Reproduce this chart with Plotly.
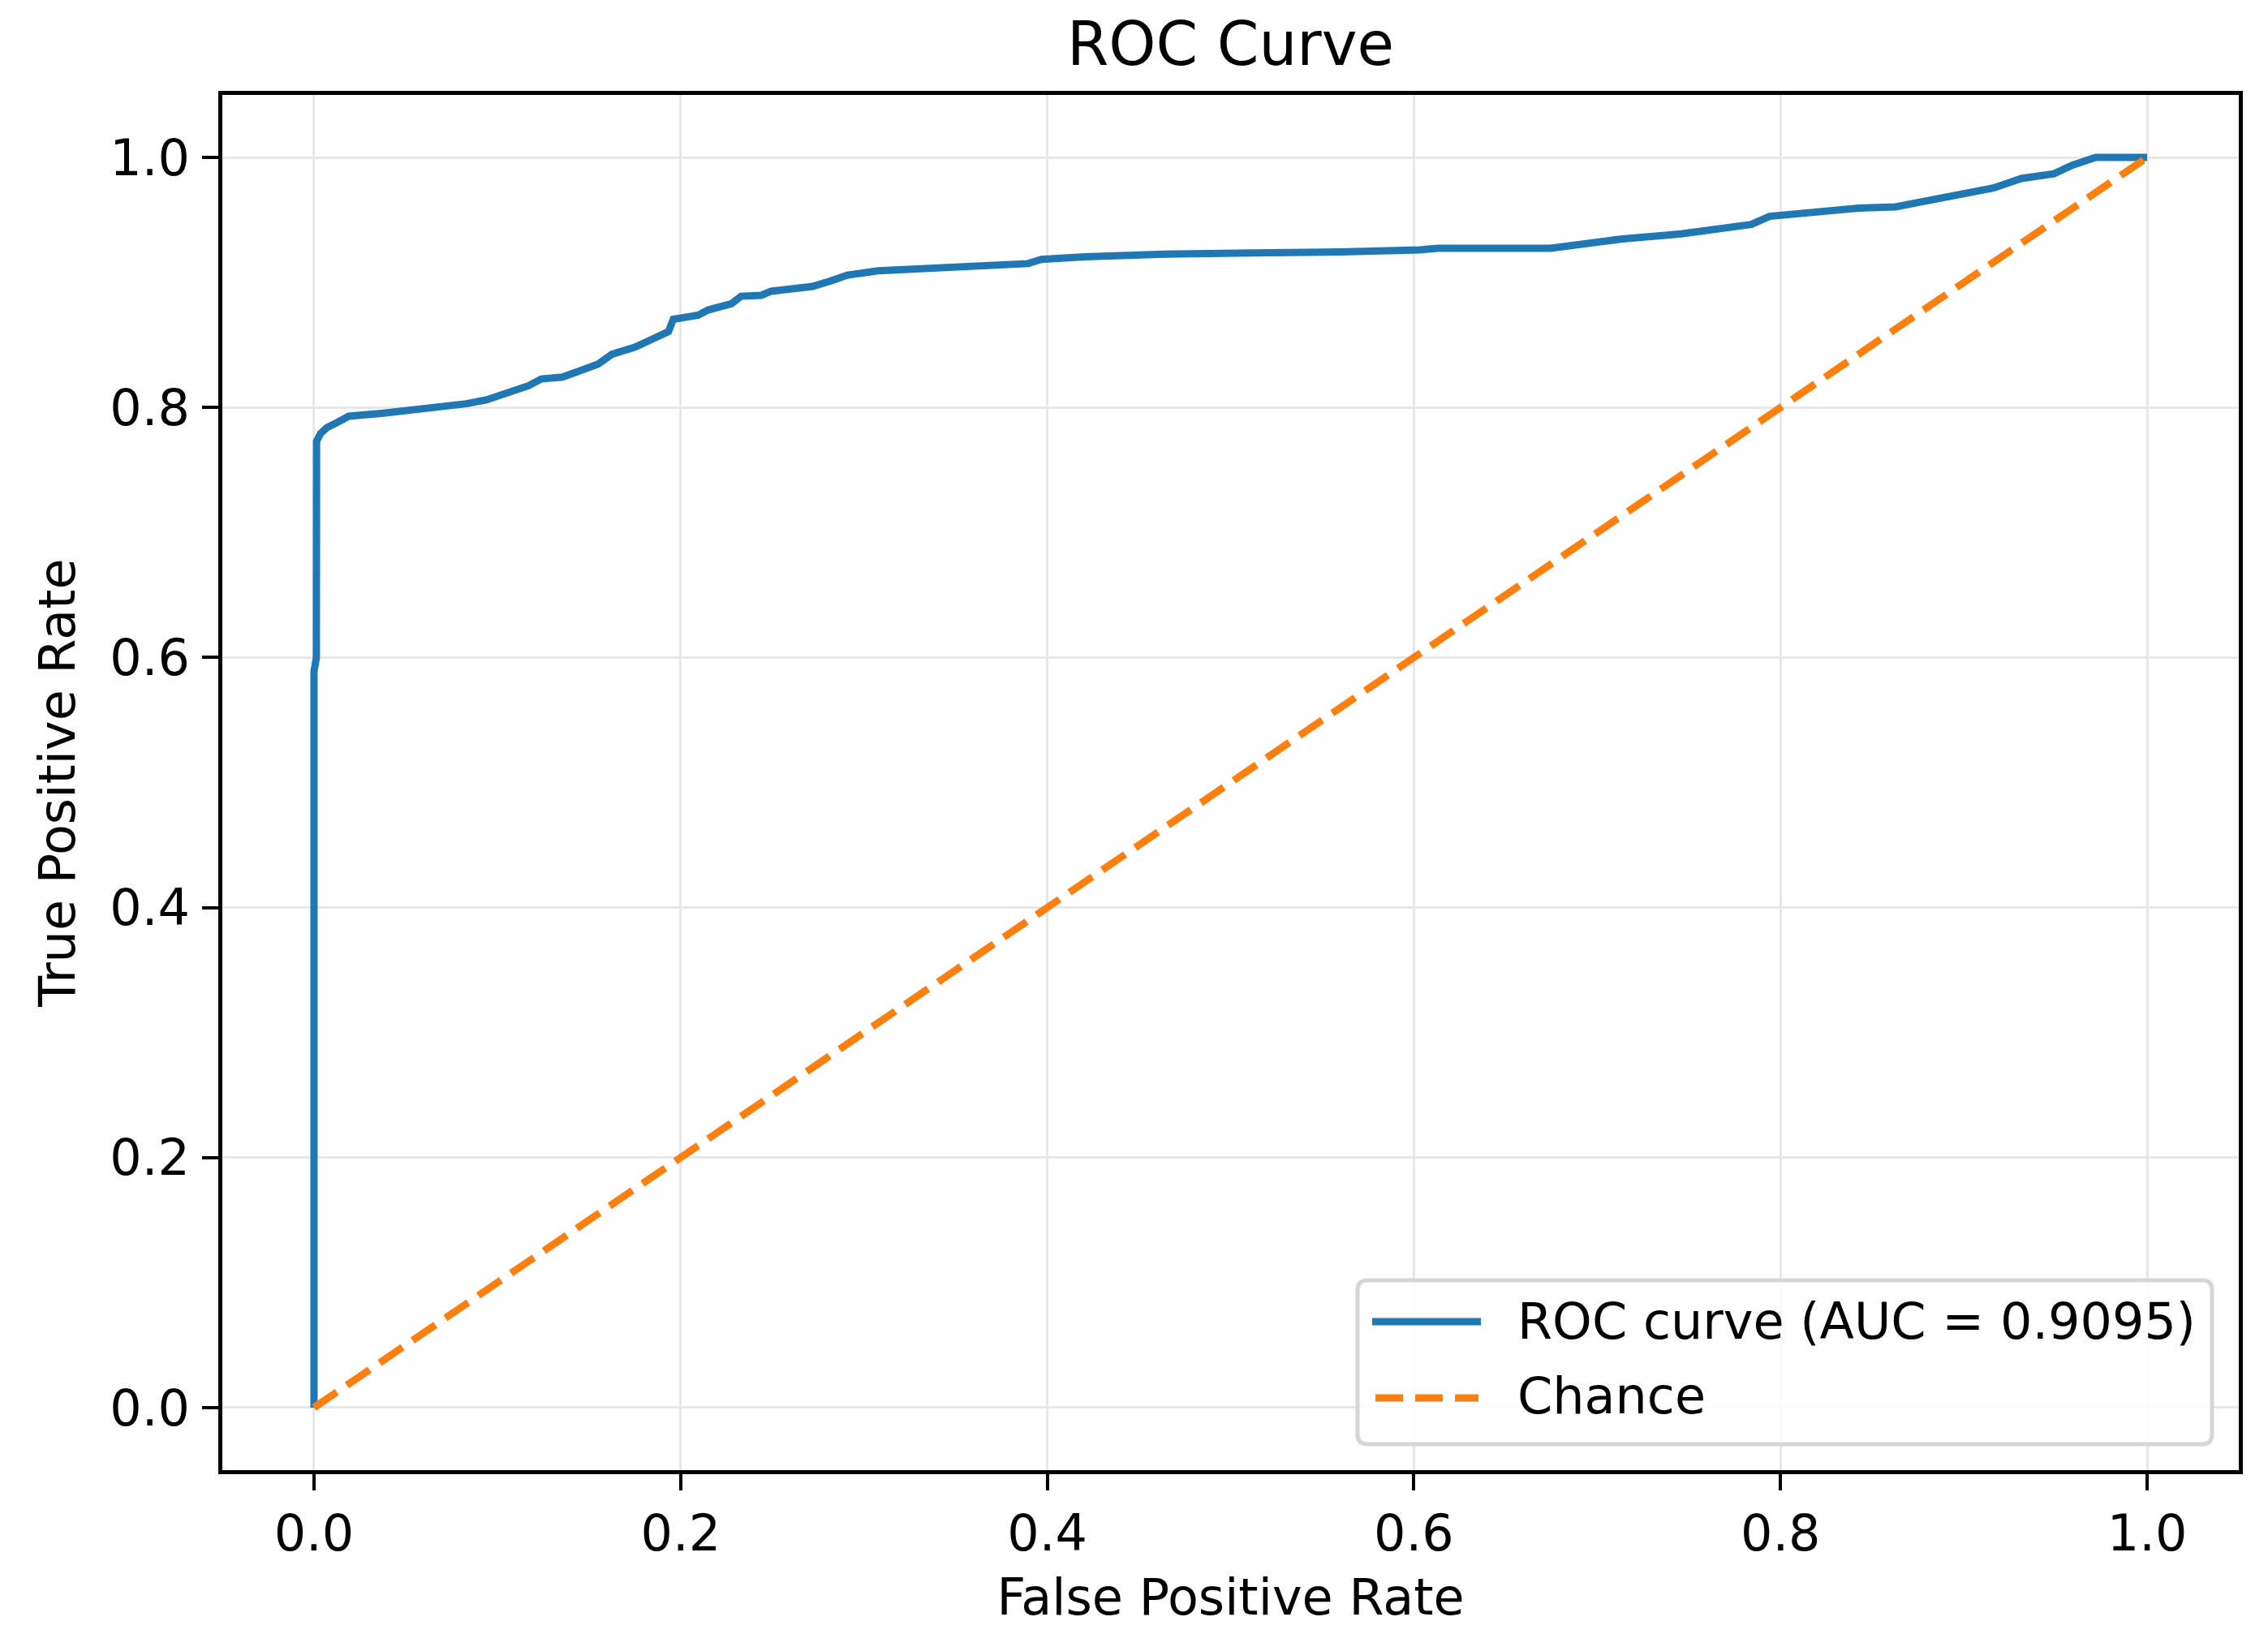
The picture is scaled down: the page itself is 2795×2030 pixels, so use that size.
import plotly.graph_objects as go

# curva ROC
fpr = [0.0, 0.0, 0.0013, 0.0013, 0.0014, 0.0035, 0.0071, 0.0126, 0.019, 0.038,
       0.052, 0.0668, 0.083, 0.094, 0.108, 0.117, 0.124, 0.1355, 0.1445, 0.155,
       0.1626, 0.1752, 0.1843, 0.1934, 0.196, 0.2096, 0.215, 0.2277, 0.233, 0.244,
       0.2494, 0.262, 0.272, 0.2814, 0.291, 0.3078, 0.3439, 0.3775, 0.3895, 0.3967,
       0.4207, 0.464, 0.512, 0.56, 0.6033, 0.6128, 0.6746, 0.6848, 0.7127, 0.7458,
       0.7687, 0.784, 0.7941, 0.8196, 0.8425, 0.8628, 0.878, 0.8958, 0.9162, 0.9314,
       0.9492, 0.9594, 0.972, 1.0]
tpr = [0.0, 0.589, 0.6, 0.753, 0.773, 0.779, 0.784, 0.788, 0.793, 0.7955,
       0.7975, 0.7995, 0.803, 0.806, 0.8136, 0.8174, 0.8228, 0.8243, 0.829, 0.8347,
       0.8426, 0.8483, 0.8545, 0.8607, 0.8706, 0.8738, 0.878, 0.883, 0.889, 0.8897,
       0.893, 0.8954, 0.8968, 0.901, 0.9059, 0.9093, 0.9114, 0.913, 0.9151, 0.9184,
       0.9205, 0.9227, 0.9231, 0.9244, 0.926, 0.9274, 0.9274, 0.9296, 0.9346, 0.9389,
       0.9432, 0.9464, 0.9529, 0.9562, 0.9594, 0.9605, 0.9648, 0.9702, 0.9756, 0.9832,
       0.987, 0.9939, 1.0, 1.0]
auc = 0.9095

chance_x = [0, 1]
chance_y = [0, 1]

ticks = [0.0, 0.2, 0.4, 0.6, 0.8, 1.0]
tick_text = ["0.0", "0.2", "0.4", "0.6", "0.8", "1.0"]

FONT = "DejaVu Sans"
AZUL = "#1f77b4"
NARANJA = "#ff7f0e"
DASH = "34px,15px"

# el body del html tiene 8px de margen
W, H = 2787, 2022
ML, MR, MT, MB = 266, 36, 109, 218


def px(x):
    # pixel de la pagina -> coordenada paper en x
    return (x - 8 - ML) / (W - ML - MR)


def py(y):
    return (H - MB - (y - 8)) / (H - MT - MB)


fig = go.Figure()
fig.add_trace(go.Scatter(
    x=fpr, y=tpr, mode="lines",
    name=f"ROC curve (AUC = {auc:.4f})",
    line=dict(color=AZUL, width=9),
))
fig.add_trace(go.Scatter(
    x=chance_x, y=chance_y, mode="lines",
    name="Chance",
    line=dict(color=NARANJA, width=9, dash=DASH),
))

eje = dict(
    range=[-0.05, 1.05],
    tickvals=ticks, ticktext=tick_text,
    showgrid=True, gridcolor="#e8e8e8", gridwidth=3,
    zeroline=False,
    showline=True, linecolor="black", linewidth=4.5, mirror=True,
    ticks="outside", ticklen=20, tickwidth=3.5, tickcolor="black",
    tickfont=dict(family=FONT, size=62, color="black"),
)

# leyenda dibujada a mano (caja redondeada, muestras largas)
x0, x1, y0, y1, r = px(1673), px(2726), py(1780), py(1578), 12
rx = r / (W - ML - MR)
ry = r / (H - MT - MB)
caja = (f"M{x0 + rx},{y0} L{x1 - rx},{y0} Q{x1},{y0} {x1},{y0 + ry} "
        f"L{x1},{y1 - ry} Q{x1},{y1} {x1 - rx},{y1} L{x0 + rx},{y1} "
        f"Q{x0},{y1} {x0},{y1 - ry} L{x0},{y0 + ry} Q{x0},{y0} {x0 + rx},{y0} Z")

shapes = [
    dict(type="path", path=caja, xref="paper", yref="paper",
         line=dict(color="#d6d6d6", width=5), fillcolor="rgba(255,255,255,0.8)"),
    dict(type="line", xref="paper", yref="paper",
         x0=px(1691), x1=px(1825), y0=py(1629), y1=py(1629),
         line=dict(color=AZUL, width=9)),
    dict(type="line", xref="paper", yref="paper",
         x0=px(1695), x1=px(1822), y0=py(1723), y1=py(1723),
         line=dict(color=NARANJA, width=9, dash=DASH)),
]
annotations = [
    dict(text=f"ROC curve (AUC = {auc:.4f})", xref="paper", yref="paper",
         x=px(1868), y=py(1628), xanchor="left", yanchor="middle",
         showarrow=False, font=dict(family=FONT, size=62, color="black")),
    dict(text="Chance", xref="paper", yref="paper",
         x=px(1868), y=py(1720), xanchor="left", yanchor="middle",
         showarrow=False, font=dict(family=FONT, size=62, color="black")),
]

fig.update_layout(
    width=W, height=H,
    margin=dict(l=ML, r=MR, t=MT, b=MB),
    paper_bgcolor="white", plot_bgcolor="white",
    font=dict(family=FONT, size=62, color="black"),
    title=dict(text="ROC Curve", xref="paper", x=0.5, xanchor="center",
               y=1 - 46 / H, yanchor="middle",
               font=dict(family=FONT, size=74, color="black")),
    xaxis=dict(eje, title=dict(text="False Positive Rate", standoff=23,
                               font=dict(family=FONT, size=62))),
    yaxis=dict(eje, ticklabelstandoff=3,
               title=dict(text="True Positive Rate", standoff=24,
                          font=dict(family=FONT, size=62))),
    shapes=shapes,
    annotations=annotations,
    showlegend=False,
)

fig.write_html("out.html")
